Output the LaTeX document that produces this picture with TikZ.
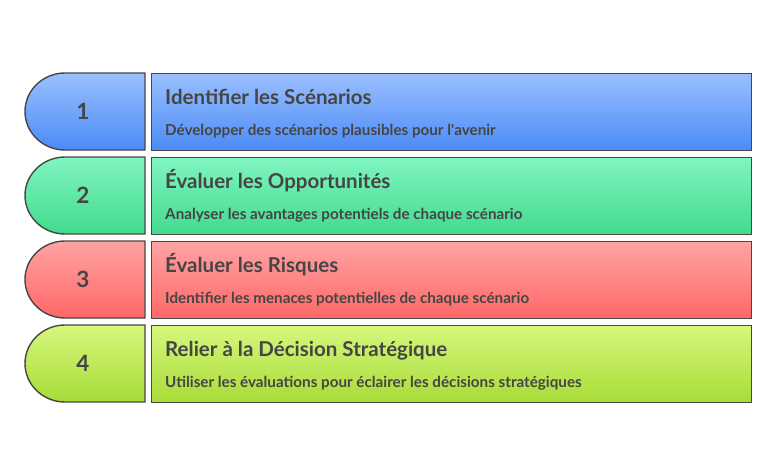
\documentclass[tikz,border=0pt]{standalone}
\usepackage{fontspec}
\setmainfont{Lato}
\usetikzlibrary{positioning}
\definecolor{edgegray}{HTML}{474747}
\definecolor{textgray}{HTML}{454545}
\definecolor{blueT}{HTML}{9ABFFF}
\definecolor{blueB}{HTML}{4A8BF6}
\definecolor{greenT}{HTML}{80F5C0}
\definecolor{greenB}{HTML}{42DA8E}
\definecolor{redT}{HTML}{FFA3A3}
\definecolor{redB}{HTML}{FF6767}
\definecolor{limeT}{HTML}{D6F77C}
\definecolor{limeB}{HTML}{A7DC38}
\tikzset{
    tab/.style={
    draw=edgegray,line width=1.4pt
    },
    stepcard/.style={
    rectangle,draw=edgegray,line width=1.4pt,minimum width=599.5pt,minimum height=77pt,inner sep=0pt
    },
    numlabel/.style={
    font=\fontsize{22.5}{24}\selectfont\bfseries,text=textgray
    },
    titlelabel/.style={
    anchor=base west,inner sep=0pt,font=\fontsize{20.5}{24}\selectfont\bfseries,text=textgray
    },
    desclabel/.style={
    anchor=base west,inner sep=0pt,font=\fontsize{15.2}{18}\selectfont\bfseries,text=textgray
    },
}
% one row: top y, top colour, bottom colour, number, title, description
\newcommand{\steprow}[7]{
  \path[tab,top color=#2,bottom color=#3]
    (145,#1) -- (65,#1) arc[start angle=270,end angle=90,x radius=40,y radius=38.5]
    -- (145,#1+77) -- cycle;
  \node[numlabel] (num#7) at (83,#1+38.5) {#4};
  \node[stepcard,top color=#2,bottom color=#3,anchor=north west] (card#7) at (151,#1) {};
  \node[titlelabel] (title#7) at (165,#1+31.5) {#5};
  \node[desclabel] (desc#7) at (165,#1+62) {#6};
}
\begin{document}
\begin{tikzpicture}[x=1pt,y=-1pt]
  \useasboundingbox (0,0) rectangle (776,451);
  \steprow{73}{blueT}{blueB}{1}{Identifier les Scénarios}{Développer des scénarios plausibles pour l\textquotesingle avenir}{A}
  \steprow{157}{greenT}{greenB}{2}{Évaluer les Opportunités}{Analyser les avantages potentiels de chaque scénario}{B}
  \steprow{241}{redT}{redB}{3}{Évaluer les Risques}{Identifier les menaces potentielles de chaque scénario}{C}
  \steprow{325}{limeT}{limeB}{4}{Relier à la Décision Stratégique}{Utiliser les évaluations pour éclairer les décisions stratégiques}{D}
\end{tikzpicture}
\end{document}
